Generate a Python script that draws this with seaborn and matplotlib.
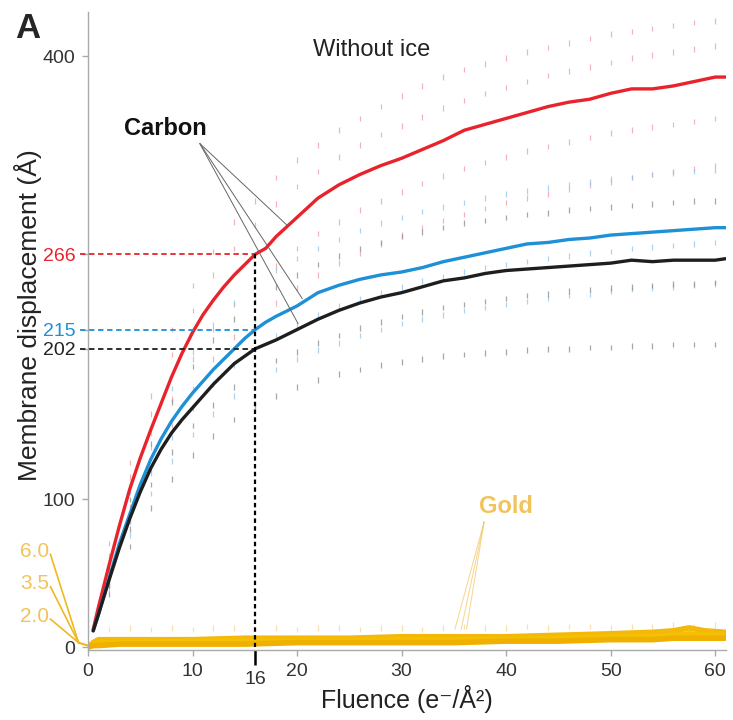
import numpy as np
import pandas as pd
import matplotlib
matplotlib.use("Agg")
import matplotlib.pyplot as plt
import seaborn as sns

# ---------------- data ----------------
fluence = [0.5, 1, 2, 3, 4, 5, 6, 7, 8, 9, 10, 11, 12, 13, 14, 15, 16, 17, 18, 20, 22, 24, 26, 28,
           30, 32, 34, 36, 38, 40, 42, 44, 46, 48, 50, 52, 54, 56, 58, 60, 61]
carbon_red = [12, 27, 55, 82, 107, 128, 147, 165, 183, 199, 213, 225, 235, 244, 252, 259, 266,
              270, 278, 291, 304, 313, 320, 326, 331, 337, 343, 350, 354, 358, 362, 366, 369,
              371, 375, 378, 378, 380, 383, 386, 386]
carbon_blue = [11, 22, 46, 70, 90, 110, 127, 141, 153, 163, 172, 180, 188, 195, 202, 209, 215,
               220, 224, 231, 240, 245, 249, 252, 254, 257, 261, 264, 267, 270, 273, 274, 276,
               277, 279, 280, 281, 282, 283, 284, 284]
carbon_black = [11, 22, 45, 67, 87, 105, 121, 134, 145, 154, 162, 170, 178, 185, 192, 197, 202,
                205, 208, 215, 222, 228, 233, 237, 240, 244, 248, 250, 253, 255, 256, 257, 258,
                259, 260, 262, 261, 262, 262, 262, 263]

gold_fluence = [0, 0.5, 1, 3, 5, 10, 15, 20, 25, 30, 35, 40, 45, 50, 54, 56, 57.5, 59, 61]
gold_a = [0, 3, 5, 5, 5, 5, 6, 6, 6, 7, 7, 7, 8, 9, 10, 11, 13, 11, 10]
gold_b = [0, 2, 3, 3, 3, 4, 4, 4, 4, 5, 5, 5, 6, 7, 7, 8, 9, 8, 8]
gold_c = [0, 1, 1, 2, 2, 2, 2, 3, 3, 3, 3, 4, 4, 5, 5, 6, 6, 6, 6]

# individual-trace samples (faint dots)
dot_fluence = [2, 4, 6, 8, 10, 12, 14, 16, 18, 20, 22, 24, 26, 28, 30,
               32, 34, 36, 38, 40, 42, 44, 46, 48, 50, 52, 54, 56, 58, 60]
red_t1 = [70, 125, 170, 215, 245, 268, 288, 302, 318, 330, 340, 350, 358, 366, 373,
          380, 386, 391, 395, 399, 403, 406, 409, 412, 415, 417, 419, 421, 423, 424]
red_t2 = [62, 115, 158, 198, 228, 252, 270, 286, 300, 312, 322, 332, 340, 347, 353,
          359, 365, 370, 375, 379, 383, 387, 390, 393, 396, 399, 401, 403, 405, 407]
red_t3 = [48, 95, 135, 168, 195, 215, 232, 246, 258, 270, 280, 288, 296, 302, 308,
          314, 319, 324, 328, 332, 336, 339, 342, 345, 348, 350, 352, 354, 356, 358]
red_t4 = [42, 85, 120, 150, 175, 195, 210, 222, 233, 243, 252, 260, 267, 273, 279,
          284, 289, 293, 297, 301, 304, 307, 310, 313, 315, 318, 320, 322, 324, 326]
blue_t1 = [55, 105, 145, 175, 200, 218, 233, 245, 255, 263, 270, 276, 282, 287, 291,
           295, 298, 301, 304, 307, 309, 311, 313, 315, 317, 318, 320, 321, 322, 323]
blue_t2 = [44, 85, 118, 142, 162, 178, 191, 202, 211, 218, 225, 231, 236, 240, 244,
           248, 251, 254, 257, 259, 261, 263, 265, 267, 268, 270, 271, 272, 273, 274]
blue_t3 = [40, 76, 104, 126, 144, 158, 170, 180, 188, 195, 201, 206, 211, 215, 219,
           222, 225, 228, 230, 232, 234, 236, 238, 239, 241, 242, 243, 244, 245, 246]
black_t1 = [52, 100, 138, 166, 190, 208, 222, 234, 244, 252, 259, 265, 270, 274, 278,
            281, 284, 287, 289, 291, 293, 294, 296, 297, 298, 299, 300, 301, 302, 302]
black_t2 = [42, 80, 110, 132, 150, 164, 176, 186, 194, 200, 206, 211, 216, 220, 224,
            227, 230, 232, 234, 236, 238, 239, 241, 242, 243, 244, 245, 246, 246, 247]
black_t3 = [36, 68, 94, 114, 130, 143, 154, 163, 170, 176, 181, 185, 188, 191, 193,
            195, 197, 198, 199, 200, 201, 202, 202, 203, 203, 204, 204, 205, 205, 205]
gold_dots = [12, 13, 12, 13, 12, 13, 13, 12, 13, 12, 13, 13, 12, 13, 13,
             12, 13, 14, 13, 13, 14, 13, 14, 14, 13, 14, 14, 15, 14, 15]

ref_fluence = 16
ref_values = [266, 215, 202]
ytick_vals = [0, 100, 202, 215, 266, 400]
xtick_vals = [0, 10, 16, 20, 30, 40, 50, 60]
gold_labels = ["6.0", "3.5", "2.0"]
gold_label_y = [65, 43, 21]

RED, BLUE, BLACK = "#E8232B", "#1E90D6", "#1E1E1E"
GOLD, PALEGOLD = "#F3B80A", "#F2C35A"
GRAY = "#AAAAAA"

# ---------------- figure ----------------
sns.set_theme(style="white")
plt.rcParams["font.family"] = ["Liberation Sans", "DejaVu Sans"]
fig = plt.figure(figsize=(7.33, 7.2), dpi=100)
ax = fig.add_axes([0.120, 0.0972, 0.870, 0.886])

# faint individual dots
traces = {"r": [red_t1, red_t2, red_t3, red_t4],
          "b": [blue_t1, blue_t2, blue_t3],
          "k": [black_t1, black_t2, black_t3],
          "y": [gold_dots]}
rows = []
for g, lst in traces.items():
    for tr in lst:
        for f, d in zip(dot_fluence, tr):
            rows.append((f, d, g))
dots = pd.DataFrame(rows, columns=["f", "d", "g"])
sns.scatterplot(data=dots, x="f", y="d", hue="g",
                palette={"r": "#F09AA0", "b": "#90C6EC", "k": "#8A8A8A", "y": "#F7D98A"},
                marker="|", s=16, linewidth=0.9, alpha=0.75, legend=False, ax=ax)

# gold lines
gold = pd.DataFrame({
    "f": gold_fluence * 3,
    "d": gold_a + gold_b + gold_c,
    "g": ["a"] * len(gold_fluence) + ["b"] * len(gold_fluence) + ["c"] * len(gold_fluence),
})
sns.lineplot(data=gold, x="f", y="d", hue="g",
             palette={"a": GOLD, "b": "#F5C000", "c": "#EFB000"},
             linewidth=4, legend=False, ax=ax, estimator=None, sort=False)

# carbon curves
carbon = pd.DataFrame({
    "f": fluence * 3,
    "d": carbon_red + carbon_blue + carbon_black,
    "g": ["red"] * len(fluence) + ["blue"] * len(fluence) + ["black"] * len(fluence),
})
sns.lineplot(data=carbon, x="f", y="d", hue="g",
             palette={"red": RED, "blue": BLUE, "black": BLACK},
             linewidth=2.4, legend=False, ax=ax, estimator=None, sort=False)

# reference dashed lines
for v, c in zip(ref_values, [RED, BLUE, BLACK]):
    ax.plot([-0.8, ref_fluence], [v, v], ls=(0, (3, 2)), color=c, lw=1.3, clip_on=False, zorder=3)
ax.plot([ref_fluence, ref_fluence], [ref_values[0], 0], ls=(0, (2, 1.5)), color="black",
        lw=1.6, zorder=3)

ax.set_xlim(0, 61)
ax.set_ylim(-2, 430)

# spines
for s in ["top", "right"]:
    ax.spines[s].set_visible(False)
for s in ["left", "bottom"]:
    ax.spines[s].set_color(GRAY)
    ax.spines[s].set_linewidth(1.0)

ax.set_yticks(ytick_vals)
ax.set_yticklabels([str(v) for v in ytick_vals])
ax.set_xticks(xtick_vals)
ax.set_xticklabels([str(v) for v in xtick_vals])
ax.tick_params(axis="both", which="major", direction="out", length=4, width=1,
               color=GRAY, labelsize=14, labelcolor="#333333", pad=5,
               left=True, bottom=True)
ytl = ax.get_yticklabels()
ycol = {0: "#333333", 100: "#333333", 202: "#222222", 215: BLUE, 266: RED, 400: "#333333"}
for lab, v in zip(ytl, ytick_vals):
    lab.set_color(ycol[v])
i16 = xtick_vals.index(16)
t16 = ax.xaxis.get_major_ticks()[i16]
t16._apply_params(size=11, width=1.8, color="black", pad=4)

ax.set_xlabel("Fluence (e⁻/Å²)", fontsize=18, color="#222222")
ax.set_ylabel("Membrane displacement (Å)", fontsize=19, color="#222222")
ax.xaxis.set_label_coords(0.5, -0.055)
ax.yaxis.set_label_coords(-0.072, 0.525)

# texts
ax.text(27.1, 404, "Without ice", fontsize=17, ha="center", va="center", color="#222222")
ax.text(7.4, 351, "Carbon", fontsize=17, fontweight="bold", ha="center", va="center",
        color="#111111")
for (ex, ey) in [(19.0, 286), (20.5, 236), (20.1, 219)]:
    ax.plot([10.7, ex], [341, ey], color="#666666", lw=0.7, zorder=4)
ax.text(40.0, 95, "Gold", fontsize=17, fontweight="bold", ha="center", va="center",
        color=PALEGOLD)
for ex in [35.1, 35.7, 36.2]:
    ax.plot([37.9, ex], [85, 12], color=PALEGOLD, lw=0.7, alpha=0.7, zorder=4)

for lab, y in zip(gold_labels, gold_label_y):
    ax.text(-3.75, y, lab, fontsize=15, ha="right", va="center", color=PALEGOLD, clip_on=False)
    ax.plot([-3.6, -0.9], [y - 2, 3], color="#F0B820", lw=1.2, clip_on=False)
ax.plot([-0.9, 0], [3, 1], color="#F0B820", lw=1.5, clip_on=False)

fig.text(0.038, 0.961, "A", fontsize=25, fontweight="bold", ha="center", va="center")

fig.savefig("out.png", dpi=100)
